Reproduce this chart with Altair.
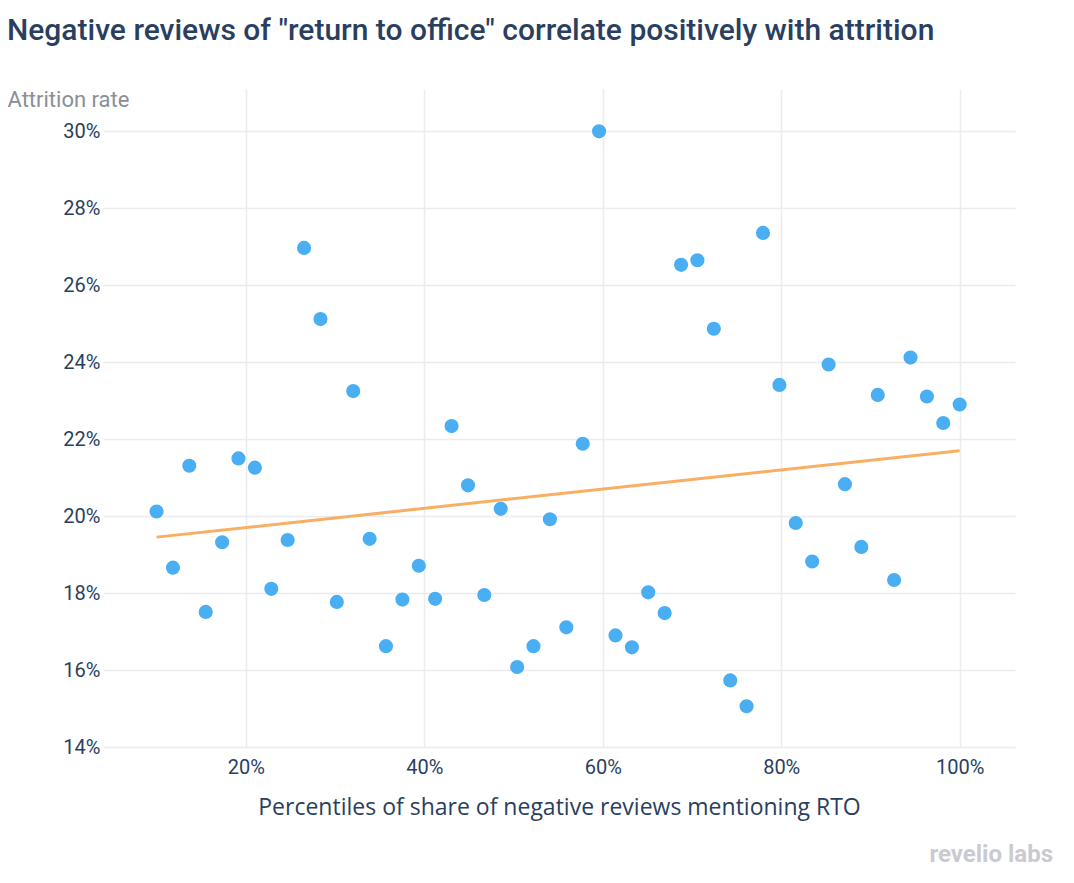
import altair as alt
import pandas as pd

# Percentile positions (share of negative reviews mentioning RTO)
pct = [0.1000, 0.1184, 0.1367, 0.1551, 0.1735, 0.1918, 0.2102, 0.2286, 0.2469, 0.2653,
       0.2837, 0.3020, 0.3204, 0.3388, 0.3571, 0.3755, 0.3939, 0.4122, 0.4306, 0.4490,
       0.4673, 0.4857, 0.5041, 0.5224, 0.5408, 0.5592, 0.5776, 0.5959, 0.6143, 0.6327,
       0.6510, 0.6694, 0.6878, 0.7061, 0.7245, 0.7429, 0.7612, 0.7796, 0.7980, 0.8163,
       0.8347, 0.8531, 0.8714, 0.8898, 0.9082, 0.9265, 0.9449, 0.9633, 0.9816, 1.0000]

# Attrition rate
attrition = [0.2012, 0.1866, 0.2131, 0.1751, 0.1932, 0.2150, 0.2126, 0.1811, 0.1938, 0.2697,
             0.2512, 0.1777, 0.2325, 0.1941, 0.1662, 0.1783, 0.1871, 0.1785, 0.2234, 0.2080,
             0.1795, 0.2019, 0.1608, 0.1662, 0.1992, 0.1711, 0.2188, 0.3000, 0.1690, 0.1659,
             0.1802, 0.1748, 0.2653, 0.2665, 0.2487, 0.1573, 0.1506, 0.2736, 0.2341, 0.1982,
             0.1882, 0.2394, 0.2083, 0.1920, 0.2315, 0.1834, 0.2412, 0.2311, 0.2242, 0.2290]

x_ticks = [0.2, 0.4, 0.6, 0.8, 1.0]
y_ticks = [0.14, 0.16, 0.18, 0.20, 0.22, 0.24, 0.26, 0.28, 0.30]

df = pd.DataFrame({"x": pct, "y": attrition})

FONT = "Roboto"
NAVY = "#2a3f5f"

x_enc = alt.X(
    "x:Q",
    scale=alt.Scale(domain=[0.04, 1.062], nice=False, zero=False),
    axis=alt.Axis(
        values=x_ticks, format=".0%", title="Percentiles of share of negative reviews mentioning RTO",
        grid=True, gridColor="#ebebf0", gridWidth=1.5, domain=False, ticks=False,
        labelFont=FONT, labelFontSize=20, labelColor=NAVY, labelPadding=10,
        titleFont="Open Sans", titleFontSize=23, titleFontWeight="normal", titleColor=NAVY,
        titleY=67, titleBaseline="alphabetic",
    ),
)
y_enc = alt.Y(
    "y:Q",
    scale=alt.Scale(domain=[0.14, 0.311], nice=False, zero=False),
    axis=alt.Axis(
        values=y_ticks, format=".0%", title="Attrition rate",
        grid=True, gridColor="#ebebf0", gridWidth=1.5, domain=False, ticks=False,
        labelFont=FONT, labelFontSize=20, labelColor=NAVY, labelPadding=3,
        titleFont=FONT, titleFontSize=22, titleFontWeight="normal", titleColor="#8a8f97",
        titleAngle=0, titleAlign="left", titleBaseline="alphabetic", titleX=-96, titleY=17,
    ),
)

points = alt.Chart(df).mark_circle(size=200, color="#4aaef3", opacity=1).encode(x=x_enc, y=y_enc)

trend = (
    alt.Chart(df)
    .transform_regression("x", "y")
    .mark_line(color="#f8ae63", strokeWidth=3)
    .encode(x="x:Q", y="y:Q")
)

watermark = alt.Chart(pd.DataFrame({"t": ["revelio labs"]})).mark_text(
    font=FONT, fontSize=24, fontWeight="bold", color="#c9cbd0", align="right", baseline="alphabetic"
).encode(text="t:N", x=alt.value(950), y=alt.value(773))

chart = (
    alt.layer(trend, points, watermark)
    .properties(
        width=912,
        height=658,
        background="white",
        autosize=alt.AutoSizeParams(type="none"),
        padding={"left": 95, "top": 81, "right": 40, "bottom": 120},
        title=alt.TitleParams(
            "Negative reviews of \"return to office\" correlate positively with attrition",
            anchor="start", frame="group", dx=-96, dy=-38, font=FONT, fontSize=30,
            fontWeight=500, color=NAVY,
        ),
    )
    .configure_view(stroke="transparent", strokeWidth=0)
)

chart.save("out.html", embed_options={"renderer": "svg", "actions": False})
